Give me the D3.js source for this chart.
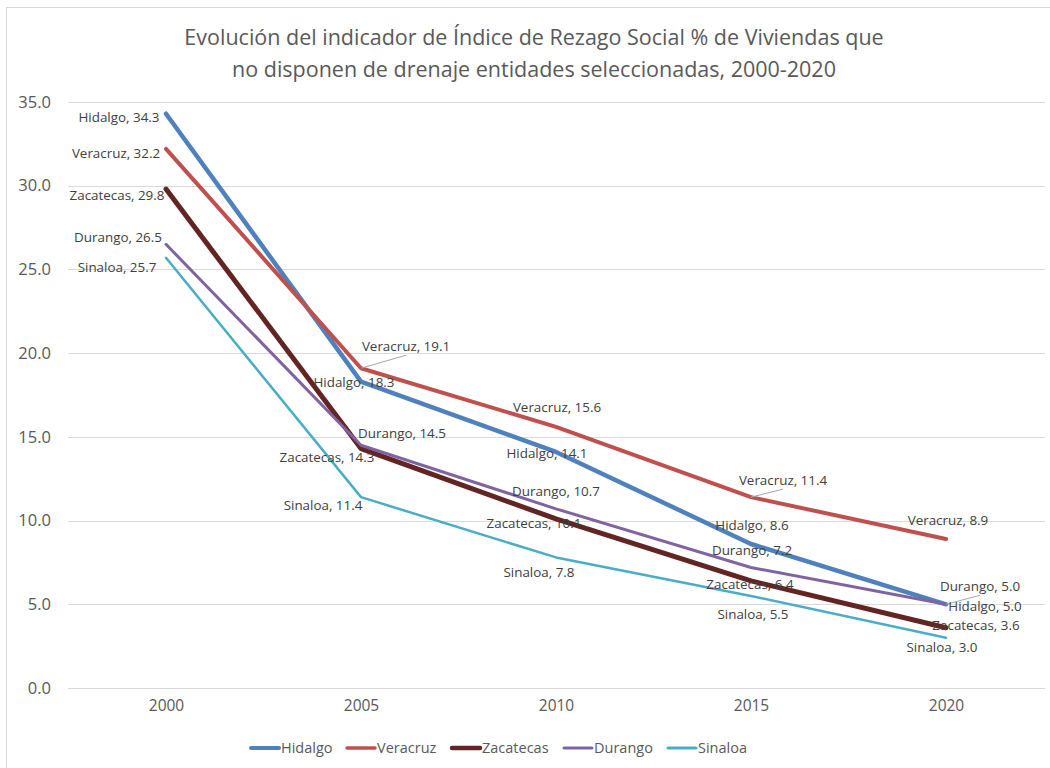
<!DOCTYPE html>
<html>
<head>
<meta charset="utf-8">
<script src="https://cdn.jsdelivr.net/npm/d3@7"></script>
<style>
  body { margin: 0; background: #fff; }
  svg { display: block; font-family: "Open Sans", "Noto Sans", sans-serif; }
</style>
</head>
<body>
<svg width="1050" height="768"></svg>
<script>
const years = ['2000', '2005', '2010', '2015', '2020'];
const seriesNames = ['Hidalgo', 'Veracruz', 'Zacatecas', 'Durango', 'Sinaloa'];
const hidalgo = [34.3, 18.3, 14.1, 8.6, 5.0];
const veracruz = [32.2, 19.1, 15.6, 11.4, 8.9];
const zacatecas = [29.8, 14.3, 10.1, 6.4, 3.6];
const durango = [26.5, 14.5, 10.7, 7.2, 5.0];
const sinaloa = [25.7, 11.4, 7.8, 5.5, 3.0];
const yTicks = [0, 5, 10, 15, 20, 25, 30, 35];

const titleLines = [
    'Evolución del indicador de Índice de Rezago Social % de Viviendas que',
    'no disponen de drenaje entidades seleccionadas, 2000-2020'
];

// styling per series (colour, stroke width)
const colors = ['#4F81BD', '#C0504D', '#632523', '#8064A2', '#4BACC6'];
const strokes = [4.5, 4, 5, 3, 2.5];

// data label placement: [dx, dy, leader] relative to point, text centred
const labelPos = [
    [[-47, 4], [-7, 1], [-9, 1], [1, -19], [39, 2]],
    [[-50, 4], [45, -22, 1], [1, -20], [32, -17, 1], [2, -19]],
    [[-49, 6], [-34, 9], [-22, 4], [-1, 3], [30, -2]],
    [[-48, -7], [41, -12], [0, -18], [1, -17], [34, -18, 1]],
    [[-49, 10], [-38, 8], [-17, 15], [2, 18], [-4, 10]]
];

const series = seriesNames.map((name, i) => ({
    name: name,
    values: [hidalgo, veracruz, zacatecas, durango, sinaloa][i],
    color: colors[i],
    width: strokes[i]
}));

const svg = d3.select('svg');

// chart border
svg.append('rect')
    .attr('x', 6.5).attr('y', 7.5)
    .attr('width', 1100).attr('height', 800)
    .attr('fill', 'none')
    .attr('stroke', '#d9d9d9');

const x = d3.scalePoint()
    .domain(years)
    .range([166, 946]);

const y = d3.scaleLinear()
    .domain([0, 35])
    .range([688, 102]);

// title
svg.append('g').selectAll('text')
    .data(titleLines)
    .enter().append('text')
    .attr('x', 534)
    .attr('y', (d, i) => 45 + i * 32)
    .attr('text-anchor', 'middle')
    .style('font-size', '21.5px')
    .style('fill', '#595959')
    .text(d => d);

// gridlines
svg.append('g').selectAll('line')
    .data(yTicks)
    .enter().append('line')
    .attr('x1', 68).attr('x2', 1045)
    .attr('y1', d => Math.round(y(d)) + 0.5)
    .attr('y2', d => Math.round(y(d)) + 0.5)
    .attr('stroke', '#d9d9d9')
    .attr('stroke-width', 1);

// y axis labels
const yAxis = svg.append('g')
    .attr('transform', 'translate(51,0)')
    .call(d3.axisLeft(y).tickValues(yTicks).tickFormat(d3.format('.1f')).tickSize(0).tickPadding(0));
yAxis.select('.domain').remove();
yAxis.selectAll('text')
    .style('font-size', '16.5px')
    .style('font-family', '"Open Sans", sans-serif')
    .style('fill', '#595959');

// x axis labels
const xAxis = svg.append('g')
    .attr('transform', 'translate(0,700)')
    .call(d3.axisBottom(x).tickSize(0).tickPadding(0));
xAxis.select('.domain').remove();
xAxis.selectAll('text')
    .style('font-size', '15.5px')
    .style('font-family', '"Open Sans", sans-serif')
    .style('fill', '#595959');

const line = d3.line()
    .x((d, i) => x(years[i]))
    .y(d => y(d));

// lines
svg.append('g').selectAll('path')
    .data(series)
    .enter().append('path')
    .attr('d', d => line(d.values))
    .attr('fill', 'none')
    .attr('stroke', d => d.color)
    .attr('stroke-width', d => d.width)
    .attr('stroke-linecap', 'round')
    .attr('stroke-linejoin', 'round');

// data labels
const labels = [];
series.forEach((s, si) => {
    s.values.forEach((v, i) => {
        const p = labelPos[si][i];
        labels.push({
            text: s.name + ', ' + v.toFixed(1),
            px: x(years[i]), py: y(v),
            cx: x(years[i]) + p[0], cy: y(v) + p[1],
            leader: !!p[2]
        });
    });
});

const lg = svg.append('g');
lg.selectAll('line')
    .data(labels.filter(d => d.leader))
    .enter().append('line')
    .attr('x1', d => d.px).attr('y1', d => d.py)
    .attr('x2', d => d.cx).attr('y2', d => d.cy + 9)
    .attr('stroke', '#a6a6a6')
    .attr('stroke-width', 1);

lg.selectAll('text')
    .data(labels)
    .enter().append('text')
    .attr('x', d => d.cx)
    .attr('y', d => d.cy)
    .attr('dy', '0.35em')
    .attr('text-anchor', 'middle')
    .style('font-size', '13.4px')
    .style('fill', '#404040')
    .text(d => d.text);

// legend
const legendX = [251, 347, 452, 564, 668];
const legend = svg.append('g').selectAll('g')
    .data(series)
    .enter().append('g')
    .attr('transform', (d, i) => 'translate(' + legendX[i] + ',748)');
legend.append('line')
    .attr('x1', 0).attr('x2', 28)
    .attr('stroke', d => d.color)
    .attr('stroke-width', d => Math.max(d.width - 0.5, 3))
    .attr('stroke-linecap', 'round');
legend.append('text')
    .attr('x', 30)
    .attr('dy', '0.35em')
    .style('font-size', '14.5px')
    .style('fill', '#595959')
    .text(d => d.name);
</script>
</body>
</html>
